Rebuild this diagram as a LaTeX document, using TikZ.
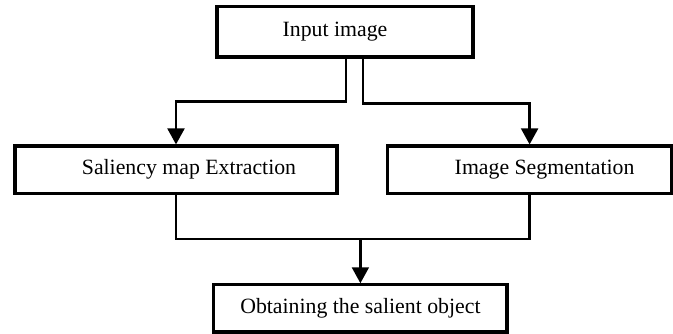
\documentclass[tikz,border=0pt]{standalone}
\usepackage{fontspec}
\setmainfont{Liberation Serif}
\usetikzlibrary{positioning, arrows.meta}

\begin{document}
\begin{tikzpicture}[
      stage/.style={draw, line width=2.2pt, minimum width=#1,
        minimum height=1.18cm, align=center,
        font=\fontsize{15.5}{18}\selectfont},
      link/.style={line width=1.9pt},
      arr/.style={link, -{Triangle[length=0.4cm, width=0.42cm]}}]
    \useasboundingbox (0,0) rectangle (16.825,-8.35);
    % boxes
    \node[stage=6.4cm, minimum height=1.27cm] (input) at (8.625,-0.79) {Input image\hspace*{0.5cm}};
    \node[stage=8.05cm] (saliency) at (4.4,-4.24) {\hspace*{0.65cm}Saliency map Extraction};
    \node[stage=7.1cm] (segment) at (13.24,-4.24) {\hspace*{0.75cm}Image Segmentation};
    \node[stage=7.33cm] (salient) at (9.01,-7.71) {Obtaining the salient object};
    % split and join points
    \coordinate (splitL) at (8.65,-2.53);
    \coordinate (splitR) at (9.075,-2.58);
    \coordinate (join) at (9.01,-5.975);
    \draw[arr] (input.south -| splitL) -- (splitL) -| (saliency.north);
    \draw[arr] (input.south -| splitR) -- (splitR) -| (segment.north);
    \draw[link] (saliency.south) |- (segment.south |- join) -- (segment.south);
    \draw[arr] (join) -- (salient.north);
  \end{tikzpicture}
\end{document}
